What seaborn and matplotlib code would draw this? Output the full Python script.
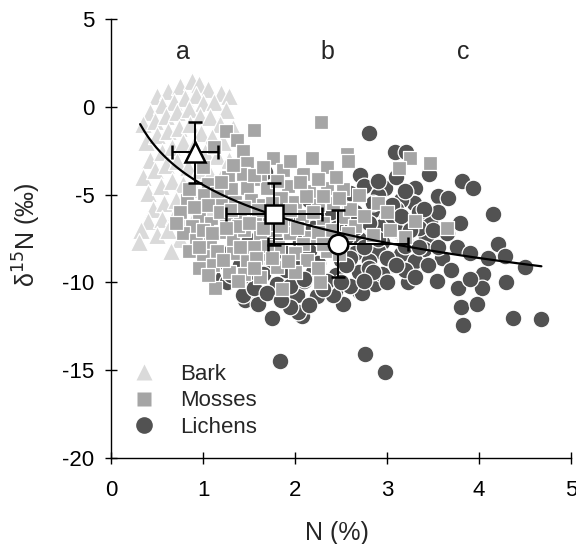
#!/usr/bin/env python3
"""
d15N vs N (%) for bark, mosses and lichens
"""

import numpy as np
import pandas as pd
import matplotlib
matplotlib.use('Agg')
import matplotlib.pyplot as plt
import seaborn as sns

# ---- data ----
bark_x = [0.50, 0.62, 0.75, 0.88, 0.95, 1.05, 1.20, 1.28, 0.42, 0.55, 0.68, 0.80, 0.92, 1.00,
          1.12, 1.25, 0.35, 0.48, 0.60, 0.72, 0.85, 0.97, 1.08, 1.18, 1.32, 0.38, 0.50, 0.62,
          0.74, 0.86, 0.98, 1.10, 1.22, 0.42, 0.55, 0.66, 0.78, 0.90, 1.02, 1.15, 1.28, 0.35,
          0.48, 0.60, 0.72, 0.84, 0.96, 1.08, 1.20, 0.40, 0.54, 0.66, 0.78, 0.90, 1.02, 1.14,
          0.45, 0.58, 0.70, 0.82, 0.94, 1.06, 0.40, 0.55, 0.68, 0.80, 0.92, 1.05, 0.32, 0.30,
          0.50, 0.62, 0.75, 0.88, 1.00, 0.65, 0.98]
bark_y = [0.6, 0.9, 1.2, 1.5, 1.3, 1.0, 0.8, 0.6, -0.3, 0.1, 0.3, 0.5, 0.7, 0.2,
          0.3, -0.2, -1.0, -0.8, -0.5, -0.3, -0.1, -0.5, -0.6, -1.0, -1.2, -2.0, -1.6, -1.4,
          -1.2, -1.0, -1.5, -1.7, -2.0, -3.0, -2.6, -2.3, -2.0, -2.2, -2.6, -2.8, -3.0, -4.0,
          -3.6, -3.3, -3.1, -3.4, -3.6, -3.8, -4.0, -4.9, -4.5, -4.2, -4.4, -4.7, -4.9, -5.0,
          -5.8, -5.5, -5.3, -5.6, -5.9, -6.0, -6.5, -6.4, -6.2, -6.6, -6.9, -7.2, -7.0, -7.7,
          -7.3, -7.0, -7.5, -7.8, -8.0, -8.2, -8.6]

moss_x = [2.28, 1.25, 1.55, 1.37, 1.43, 1.12, 1.76, 2.18, 2.57, 2.58, 3.25, 3.47, 3.13, 1.48,
          1.87, 2.09, 2.35, 1.27, 1.43, 1.62, 2.35, 2.52, 1.05,
          0.82, 1.01, 1.15, 1.30, 1.48, 1.70, 1.92, 2.15, 2.41, 0.96, 1.09, 1.20, 1.35, 1.52,
          1.65, 1.85, 2.00, 2.25, 2.52, 0.75, 0.88, 1.25, 1.40, 1.58, 1.90, 2.08, 2.30, 2.65,
          3.03, 3.65, 3.20, 2.85,
          0.78, 0.92, 1.08, 1.20, 1.33, 1.45, 1.62, 1.78, 1.95, 2.15, 2.45, 2.09, 0.85, 1.00,
          1.15, 1.33, 1.48, 1.65, 1.82, 2.00, 2.13, 2.35, 0.95, 1.11, 1.28, 1.45, 1.62, 1.80,
          2.00, 1.13, 1.86, 2.27, 1.70, 1.55, 1.38, 1.72, 2.20, 1.00, 2.60, 2.75, 2.40, 2.90,
          3.30, 3.00,
          1.05, 1.18, 1.30, 1.45, 1.60, 1.75, 1.95, 2.12, 2.30, 0.90, 1.10, 1.25, 1.50, 1.65,
          1.85, 2.02, 2.25, 0.95, 1.22, 1.40, 1.58, 1.75, 1.92, 2.25, 1.05, 1.38, 1.55, 1.20,
          1.55, 1.80, 2.05, 2.25, 2.45, 1.32, 1.65, 1.95, 2.48, 2.70, 2.58, 2.30, 2.48, 0.70,
          0.85, 1.00]
moss_y = [-0.85, -1.4, -1.3, -1.9, -2.5, -2.3, -2.9, -2.9, -2.7, -3.1, -2.9, -3.2, -3.5, -3.2,
          -3.6, -3.8, -3.4, -4.0, -3.8, -4.1, -4.6, -4.7, -4.4,
          -5.3, -5.0, -4.9, -4.7, -4.6, -4.6, -4.5, -4.8, -5.5, -6.2, -6.6, -5.6, -5.4, -5.3,
          -5.6, -5.2, -5.4, -5.6, -6.3, -6.0, -6.8, -6.3, -6.1, -6.2, -6.4, -6.2, -6.6, -6.8,
          -7.0, -6.9, -7.4, -7.3,
          -7.2, -7.6, -7.7, -7.1, -7.6, -7.0, -7.3, -7.0, -7.2, -7.4, -7.5, -7.8, -8.2, -8.5,
          -8.2, -8.3, -8.8, -8.4, -8.0, -8.3, -8.7, -8.2, -9.2, -9.0, -9.4, -9.5, -9.7, -9.1,
          -9.4, -10.3, -10.4, -10.0, -7.9, -8.0, -6.8, -6.7, -6.0, -7.0, -5.8, -6.2, -7.0, -5.5,
          -6.5, -6.0,
          -5.6, -6.0, -5.9, -5.7, -5.9, -5.5, -5.9, -5.1, -5.1, -5.7, -7.2, -6.9, -6.6, -6.9,
          -6.8, -6.9, -7.1, -8.0, -8.7, -8.0, -8.6, -8.6, -8.8, -9.2, -9.6, -9.9, -9.2, -4.3,
          -3.9, -4.2, -4.3, -4.1, -4.0, -3.3, -3.4, -3.1, -5.2, -5.0, -7.2, -7.8, -8.4, -6.6,
          -4.7, -3.4]

lichen_x = [2.80, 3.09, 3.21, 3.46, 3.82, 3.94, 2.71, 3.30, 3.55, 3.66, 4.15, 3.79, 3.47, 3.27,
            4.21, 4.28, 4.50, 4.04, 4.30, 3.77, 4.03, 3.81, 3.98, 3.83, 4.37, 4.68, 3.54, 3.23,
            3.42, 3.76, 2.87, 2.70, 2.52, 2.43, 2.75, 2.98, 3.29, 2.76, 2.98, 2.73, 2.24, 2.08,
            1.75, 1.84, 1.00, 0.95, 1.11, 1.26, 1.46, 1.60, 1.43, 2.02, 2.03, 1.95, 2.41, 1.67,
            3.60, 3.90, 3.55, 3.10,
            2.55, 2.90, 3.15,
            2.30, 2.60, 2.85, 3.10, 3.35,
            2.00, 2.25, 2.50, 2.75, 3.00, 3.25,
            1.70, 1.95, 2.20, 2.60, 2.85, 3.10, 3.35,
            1.50, 1.80, 2.05, 2.30, 2.70, 2.95, 3.20,
            1.30, 1.60, 1.90, 2.15, 2.40, 2.65, 2.90, 3.15, 3.40,
            1.20, 1.50, 1.75, 2.00, 2.25, 2.50, 2.80, 3.05, 3.30,
            1.35, 1.65, 1.90, 2.20, 2.45, 2.70, 2.95, 3.20,
            1.55, 1.80, 2.10, 2.35, 2.60, 3.00,
            2.40, 2.65, 2.95, 3.20, 2.15, 2.50, 2.80, 3.05, 1.85, 2.35,
            2.45, 2.55, 2.65, 2.80, 2.90, 3.05, 3.15, 3.25, 3.35, 3.00, 2.75, 2.60, 2.55, 2.85,
            3.10, 3.30, 2.50, 2.75, 3.40, 3.20, 2.90, 2.60, 2.85, 1.40, 1.55, 1.70, 1.30, 1.15,
            1.05, 1.85, 2.15, 2.30, 1.95, 2.10, 3.45, 3.55, 3.65, 3.50, 3.70, 3.90, 4.10]
lichen_y = [-1.5, -2.6, -2.6, -3.8, -4.2, -4.6, -3.9, -4.6, -5.1, -5.2, -6.1, -6.6, -6.5, -5.4,
            -7.8, -8.5, -9.1, -9.5, -10.0, -10.3, -10.3, -11.4, -11.2, -12.4, -12.0, -12.1, -9.9, -10.0,
            -7.4, -8.0, -10.1, -10.5, -11.2, -10.5, -4.5, -4.6, -5.5, -14.1, -15.1, -10.6, -10.8, -11.9,
            -12.0, -14.5, -8.9, -7.9, -9.7, -10.0, -11.0, -11.2, -10.7, -10.7, -11.7, -11.4, -10.7, -3.7,
            -8.6, -8.3, -6.0, -4.0,
            -5.2, -5.0, -5.3,
            -5.8, -5.7, -5.9, -5.8, -6.0,
            -6.4, -6.3, -6.5, -6.4, -6.3, -6.6,
            -7.0, -7.1, -6.9, -7.0, -7.2, -7.0, -6.9,
            -7.6, -7.5, -7.7, -7.6, -7.5, -7.7, -7.6,
            -8.2, -8.1, -8.3, -8.2, -8.1, -8.3, -8.2, -8.4, -8.1,
            -8.8, -8.7, -8.9, -8.8, -8.9, -8.7, -8.8, -9.0, -8.8,
            -9.4, -9.5, -9.3, -9.4, -9.6, -9.4, -9.5, -9.3,
            -10.0, -10.1, -9.9, -10.0, -10.2, -10.0,
            -6.0, -6.9, -6.8, -7.9, -5.3, -8.0, -9.2, -6.2, -6.2, -9.9,
            -6.9, -7.4, -6.0, -6.6, -7.5, -5.6, -6.2, -7.0, -8.0, -8.6, -8.0, -8.6, -9.0, -9.4,
            -9.0, -9.7, -10.0, -9.9, -5.8, -4.8, -4.2, -4.9, -5.5, -9.0, -10.3, -10.6, -9.6, -8.6,
            -9.3, -11.0, -11.3, -10.4, -10.2, -9.8, -9.0, -8.0, -7.2, -7.0, -9.3, -9.8, -8.6]

group_names = ['Bark', 'Mosses', 'Lichens']
group_colors = ['#dadada', '#a5a5a5', '#525252']
group_markers = ['^', 's', 'o']

# group means with SD
mean_x = [0.91, 1.77, 2.47]
mean_y = [-2.6, -6.1, -7.8]
mean_xerr = [0.25, 0.52, 0.76]
mean_yerr = [1.75, 1.77, 1.9]

# log fit: y = a + b * ln(x)
fit_a, fit_b = -4.45, -3.0
fit_range = (0.315, 4.68)

region_labels = ['a', 'b', 'c']
region_label_x = [0.78, 2.35, 3.83]

# ---- plotting ----
sns.set_style('ticks')
plt.rcParams['font.family'] = ['Liberation Sans', 'DejaVu Sans']
plt.rcParams['axes.unicode_minus'] = False

fig = plt.figure(figsize=(5.76, 5.44), dpi=100)
ax = fig.add_axes([0.193, 0.158, 0.798, 0.807])

df = pd.concat([
    pd.DataFrame({'x': bark_x, 'y': bark_y, 'group': 'Bark'}),
    pd.DataFrame({'x': moss_x, 'y': moss_y, 'group': 'Mosses'}),
    pd.DataFrame({'x': lichen_x, 'y': lichen_y, 'group': 'Lichens'}),
])

sizes = {'Bark': 170, 'Mosses': 110, 'Lichens': 145}
for name, col, mk, z in zip(group_names, group_colors, group_markers, [2, 3, 1]):
    sub = df[df['group'] == name]
    sns.scatterplot(data=sub, x='x', y='y', marker=mk, color=col, s=sizes[name],
                    edgecolor='white', linewidth=0.9, ax=ax, zorder=z, legend=False)

xs = np.linspace(fit_range[0], fit_range[1], 200)
ax.plot(xs, fit_a + fit_b * np.log(xs), color='black', lw=1.6, zorder=4)

for mx, my, ex, ey, mk, ms in zip(mean_x, mean_y, mean_xerr, mean_yerr, group_markers, [15, 13, 14]):
    ax.errorbar(mx, my, xerr=ex, yerr=ey, fmt=mk, ms=ms, mfc='white', mec='black',
                mew=1.8, ecolor='black', elinewidth=1.4, capsize=5, capthick=1.4, zorder=5)

for lab, lx in zip(region_labels, region_label_x):
    ax.text(lx, 3.1, lab, fontsize=18, ha='center', va='center')

# legend
handles = [plt.Line2D([], [], ls='none', marker=m, color=c, ms=ms, mec='none')
           for m, c, ms in zip(group_markers, group_colors, [12, 10, 12])]
ax.legend(handles, group_names, loc='lower left', bbox_to_anchor=(-0.01, 0.0), frameon=False,
          fontsize=16, handletextpad=0.8, labelspacing=0.25, borderaxespad=0.5,
          handlelength=1.6)

ax.set_xlim(0, 5)
ax.set_ylim(-20, 5)
ax.set_xticks([0, 1, 2, 3, 4, 5])
ax.set_yticks([-20, -15, -10, -5, 0, 5])
ax.tick_params(direction='inout', length=9, width=1, labelsize=16, colors='black')
ax.tick_params(axis='x', pad=11)
ax.tick_params(axis='y', pad=7.5)
sns.despine(ax=ax)
for sp in ['left', 'bottom']:
    ax.spines[sp].set_color('black')
    ax.spines[sp].set_linewidth(1)

ax.set_xlabel('N (%)', fontsize=18)
ax.set_ylabel('δ$^{15}$N (‰)', fontsize=18)
ax.xaxis.set_label_coords(0.491, -0.143)
ax.yaxis.set_label_coords(-0.148, 0.508)

fig.savefig('out.png', dpi=100)
